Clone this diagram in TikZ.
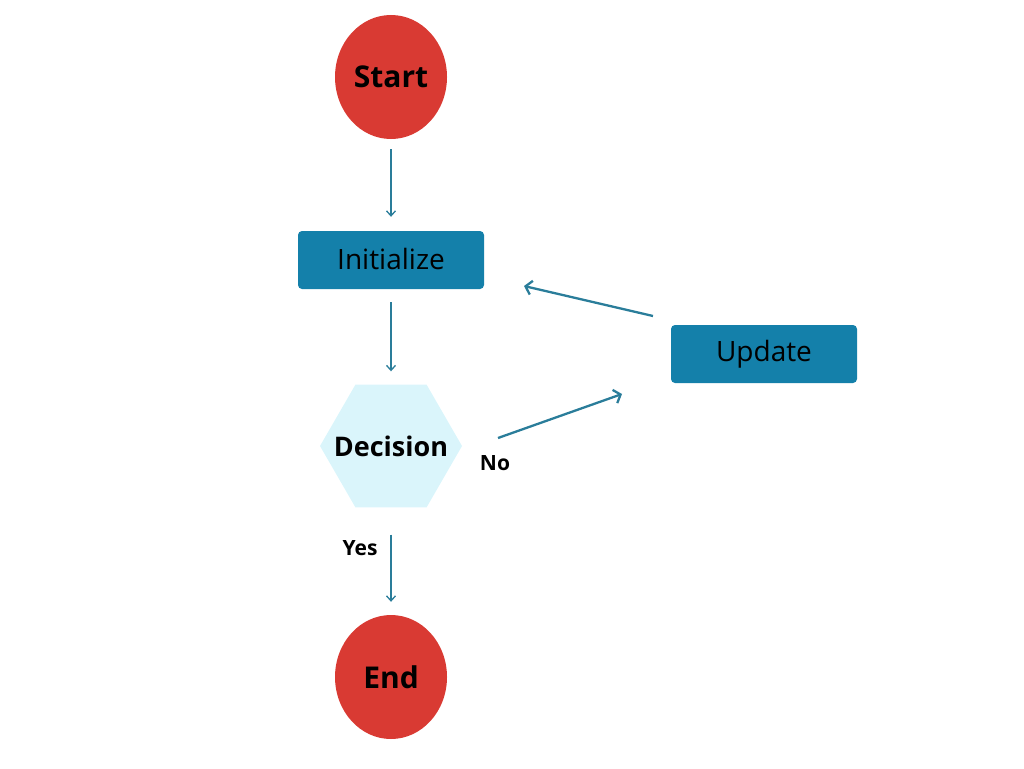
\documentclass[tikz,border=0pt]{standalone}
\usepackage{fontspec}
\setmainfont{Open Sans}
\usetikzlibrary{shapes.geometric,arrows.meta}
\definecolor{termred}{HTML}{D93A33}
\definecolor{procblue}{HTML}{1480AA}
\definecolor{declight}{HTML}{DAF5FB}
\definecolor{arrowteal}{HTML}{2A7D9A}
\tikzset{
  term/.style={ellipse, fill=termred, minimum width=112pt, minimum height=124pt, inner sep=0pt, font=\fontsize{30}{34}\selectfont\bfseries},
  proc/.style={rectangle, rounded corners=4pt, fill=procblue, minimum width=186pt, minimum height=58pt, inner sep=0pt, font=\fontsize{28}{32}\selectfont},
  dec/.style={regular polygon, regular polygon sides=6, fill=declight, minimum size=142pt, inner sep=0pt},
  dectext/.style={font=\fontsize{27}{30}\selectfont\bfseries, inner sep=0pt},
  conn/.style={draw=arrowteal, line width=1.3pt, -{Straight Barb[length=5pt,width=9pt]}},
  connthick/.style={draw=arrowteal, line width=2.3pt, -{Straight Barb[length=6pt,width=14pt]}},
  lbl/.style={font=\fontsize{21}{24}\selectfont\bfseries, inner sep=0pt}
}
\begin{document}
\begin{tikzpicture}[x=1pt,y=-1pt]
\useasboundingbox (0,0) rectangle (1024,768);
\node[term] (start) at (391,77) {Start};
\node[proc] (init) at (391,260) {\raisebox{3pt}{Initialize}};
\node[dec] (decision) at (391,446) {};
\node[dectext] (decisionlabel) at (decision.center) {Decision};
\node[term] (end) at (391,677) {End};
\node[proc] (update) at (764,354) {Update};
\coordinate (noA) at (498,438);
\coordinate (noB) at (622,394);
\coordinate (upA) at (653,316);
\coordinate (upB) at (524,286);
\draw[conn, shorten <=10pt, shorten >=14pt] (start) -- (init);
\draw[conn, shorten <=13pt, shorten >=13pt] (init) -- (decision);
\draw[conn, shorten <=27pt, shorten >=13pt] (decision) -- (end);
\draw[connthick] (noA) -- (noB);
\draw[connthick] (upA) -- (upB);
\node[lbl] (yes) at (360,548) {Yes};
\node[lbl] (no) at (495,463) {No};
\end{tikzpicture}
\end{document}
